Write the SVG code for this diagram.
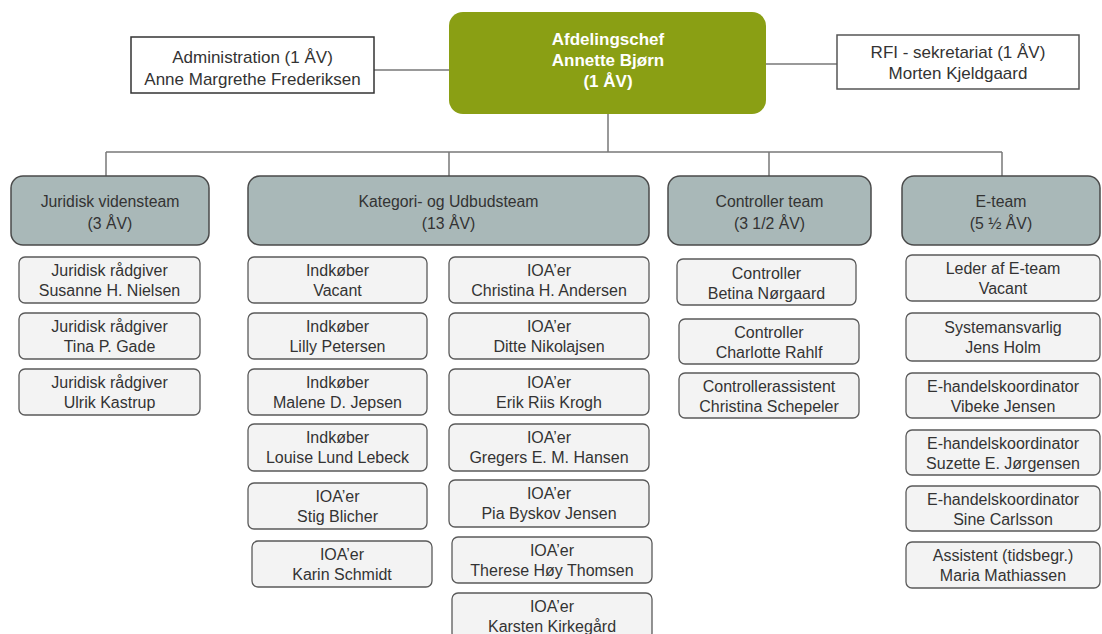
<svg xmlns="http://www.w3.org/2000/svg" width="1102" height="634" viewBox="0 0 1102 634">
<style>
text{font-family:"Liberation Sans",Arial,sans-serif;text-anchor:middle;fill:#333}
.top{font-size:17px}
.chief{font-size:17px;font-weight:bold;fill:#fff}
.team{font-size:15.8px}
.ch{font-size:16px}
.plain{fill:#fff;stroke:#333;stroke-width:1.5}
.green{fill:#8a9f14}
.teambox{fill:#a9b8b8;stroke:#4a4a4a;stroke-width:1.5}
.child{fill:#f3f3f3;stroke:#5a5a5a;stroke-width:1.3}
.conn{stroke:#777;stroke-width:1.5;fill:none}
</style>
<rect width="1102" height="634" fill="#fff"/>
<g id="connectors">
<line class="conn" x1="374" y1="70" x2="449" y2="70"/>
<line class="conn" x1="766" y1="64" x2="837" y2="64"/>
<line class="conn" x1="608" y1="114" x2="608" y2="152"/>
<line class="conn" x1="106" y1="152" x2="1002" y2="152"/>
<line class="conn" x1="106" y1="152" x2="106" y2="176"/>
<line class="conn" x1="449" y1="152" x2="449" y2="176"/>
<line class="conn" x1="769" y1="152" x2="769" y2="176"/>
<line class="conn" x1="1002" y1="152" x2="1002" y2="176"/>
</g>
<g id="chief">
<rect class="green" x="449" y="12" width="317" height="102" rx="14"/>
<text class="chief" x="608" y="45">Afdelingschef</text>
<text class="chief" x="608" y="66">Annette Bjørn</text>
<text class="chief" x="608" y="87">(1 ÅV)</text>
</g>
<g id="admin">
<rect class="plain" x="131" y="37" width="243" height="56"/>
<text class="top" x="252.5" y="63">Administration (1 ÅV)</text>
<text class="top" x="252.5" y="84.5">Anne Margrethe Frederiksen</text>
</g>
<g id="rfi">
<rect class="plain" x="837" y="35" width="242" height="54" style="stroke:#555"/>
<text class="top" x="958" y="58">RFI - sekretariat (1 ÅV)</text>
<text class="top" x="958" y="79">Morten Kjeldgaard</text>
</g>
<g id="team-juridisk">
<rect class="teambox" x="11" y="176" width="198" height="69" rx="12"/>
<text class="team" x="110" y="207">Juridisk vidensteam</text>
<text class="team" x="110" y="229">(3 ÅV)</text>
</g>
<g id="team-kategori">
<rect class="teambox" x="248" y="176" width="401" height="69" rx="12"/>
<text class="team" x="448.5" y="207">Kategori- og Udbudsteam</text>
<text class="team" x="448.5" y="229">(13 ÅV)</text>
</g>
<g id="team-controller">
<rect class="teambox" x="668" y="176" width="203" height="69" rx="12"/>
<text class="team" x="769.5" y="207">Controller team</text>
<text class="team" x="769.5" y="229">(3 1/2 ÅV)</text>
</g>
<g id="team-e">
<rect class="teambox" x="902" y="176" width="198" height="69" rx="12"/>
<text class="team" x="1001" y="207">E-team</text>
<text class="team" x="1001" y="229">(5 ½ ÅV)</text>
</g>
<g id="j1"><rect class="child" x="19" y="257" width="181" height="46" rx="6"/><text class="ch" x="109.5" y="276">Juridisk rådgiver</text><text class="ch" x="109.5" y="296">Susanne H. Nielsen</text></g>
<g id="j2"><rect class="child" x="19" y="313" width="181" height="46" rx="6"/><text class="ch" x="109.5" y="332">Juridisk rådgiver</text><text class="ch" x="109.5" y="352">Tina P. Gade</text></g>
<g id="j3"><rect class="child" x="19" y="369" width="181" height="46" rx="6"/><text class="ch" x="109.5" y="388">Juridisk rådgiver</text><text class="ch" x="109.5" y="408">Ulrik Kastrup</text></g>
<g id="k1"><rect class="child" x="248" y="257" width="179" height="46" rx="6"/><text class="ch" x="337.5" y="276">Indkøber</text><text class="ch" x="337.5" y="296">Vacant</text></g>
<g id="k2"><rect class="child" x="248" y="313" width="179" height="46" rx="6"/><text class="ch" x="337.5" y="332">Indkøber</text><text class="ch" x="337.5" y="352">Lilly Petersen</text></g>
<g id="k3"><rect class="child" x="248" y="369" width="179" height="46" rx="6"/><text class="ch" x="337.5" y="388">Indkøber</text><text class="ch" x="337.5" y="408">Malene D. Jepsen</text></g>
<g id="k4"><rect class="child" x="248" y="424" width="179" height="47" rx="6"/><text class="ch" x="337.5" y="443">Indkøber</text><text class="ch" x="337.5" y="463">Louise Lund Lebeck</text></g>
<g id="k5"><rect class="child" x="248" y="483" width="179" height="46" rx="6"/><text class="ch" x="337.5" y="502">IOA’er</text><text class="ch" x="337.5" y="522">Stig Blicher</text></g>
<g id="k6"><rect class="child" x="252" y="541" width="180" height="46" rx="6"/><text class="ch" x="342" y="560">IOA’er</text><text class="ch" x="342" y="580">Karin Schmidt</text></g>
<g id="i1"><rect class="child" x="449" y="257" width="200" height="46" rx="6"/><text class="ch" x="549" y="276">IOA’er</text><text class="ch" x="549" y="296">Christina H. Andersen</text></g>
<g id="i2"><rect class="child" x="449" y="313" width="200" height="46" rx="6"/><text class="ch" x="549" y="332">IOA’er</text><text class="ch" x="549" y="352">Ditte Nikolajsen</text></g>
<g id="i3"><rect class="child" x="449" y="369" width="200" height="46" rx="6"/><text class="ch" x="549" y="388">IOA’er</text><text class="ch" x="549" y="408">Erik Riis Krogh</text></g>
<g id="i4"><rect class="child" x="449" y="424" width="200" height="47" rx="6"/><text class="ch" x="549" y="443">IOA’er</text><text class="ch" x="549" y="463">Gregers E. M. Hansen</text></g>
<g id="i5"><rect class="child" x="449" y="480" width="200" height="47" rx="6"/><text class="ch" x="549" y="499">IOA’er</text><text class="ch" x="549" y="519">Pia Byskov Jensen</text></g>
<g id="i6"><rect class="child" x="452" y="537" width="200" height="46" rx="6"/><text class="ch" x="552" y="556">IOA’er</text><text class="ch" x="552" y="576">Therese Høy Thomsen</text></g>
<g id="i7"><rect class="child" x="452" y="593" width="200" height="46" rx="6"/><text class="ch" x="552" y="612">IOA’er</text><text class="ch" x="552" y="632">Karsten Kirkegård</text></g>
<g id="c1"><rect class="child" x="677" y="259" width="179" height="46" rx="6"/><text class="ch" x="766.5" y="279">Controller</text><text class="ch" x="766.5" y="299">Betina Nørgaard</text></g>
<g id="c2"><rect class="child" x="679" y="319" width="180" height="45" rx="6"/><text class="ch" x="769" y="338">Controller</text><text class="ch" x="769" y="358">Charlotte Rahlf</text></g>
<g id="c3"><rect class="child" x="679" y="373" width="180" height="45" rx="6"/><text class="ch" x="769" y="392">Controllerassistent</text><text class="ch" x="769" y="412">Christina Schepeler</text></g>
<g id="e1"><rect class="child" x="906" y="255" width="194" height="46" rx="6"/><text class="ch" x="1003" y="274">Leder af E-team</text><text class="ch" x="1003" y="294">Vacant</text></g>
<g id="e2"><rect class="child" x="906" y="313" width="194" height="48" rx="6"/><text class="ch" x="1003" y="333">Systemansvarlig</text><text class="ch" x="1003" y="353">Jens Holm</text></g>
<g id="e3"><rect class="child" x="906" y="373" width="194" height="45" rx="6"/><text class="ch" x="1003" y="392">E-handelskoordinator</text><text class="ch" x="1003" y="412">Vibeke Jensen</text></g>
<g id="e4"><rect class="child" x="906" y="430" width="194" height="45" rx="6"/><text class="ch" x="1003" y="449">E-handelskoordinator</text><text class="ch" x="1003" y="469">Suzette E. Jørgensen</text></g>
<g id="e5"><rect class="child" x="906" y="486" width="194" height="45" rx="6"/><text class="ch" x="1003" y="505">E-handelskoordinator</text><text class="ch" x="1003" y="525">Sine Carlsson</text></g>
<g id="e6"><rect class="child" x="906" y="542" width="194" height="46" rx="6"/><text class="ch" x="1003" y="561">Assistent (tidsbegr.)</text><text class="ch" x="1003" y="581">Maria Mathiassen</text></g>
</svg>
